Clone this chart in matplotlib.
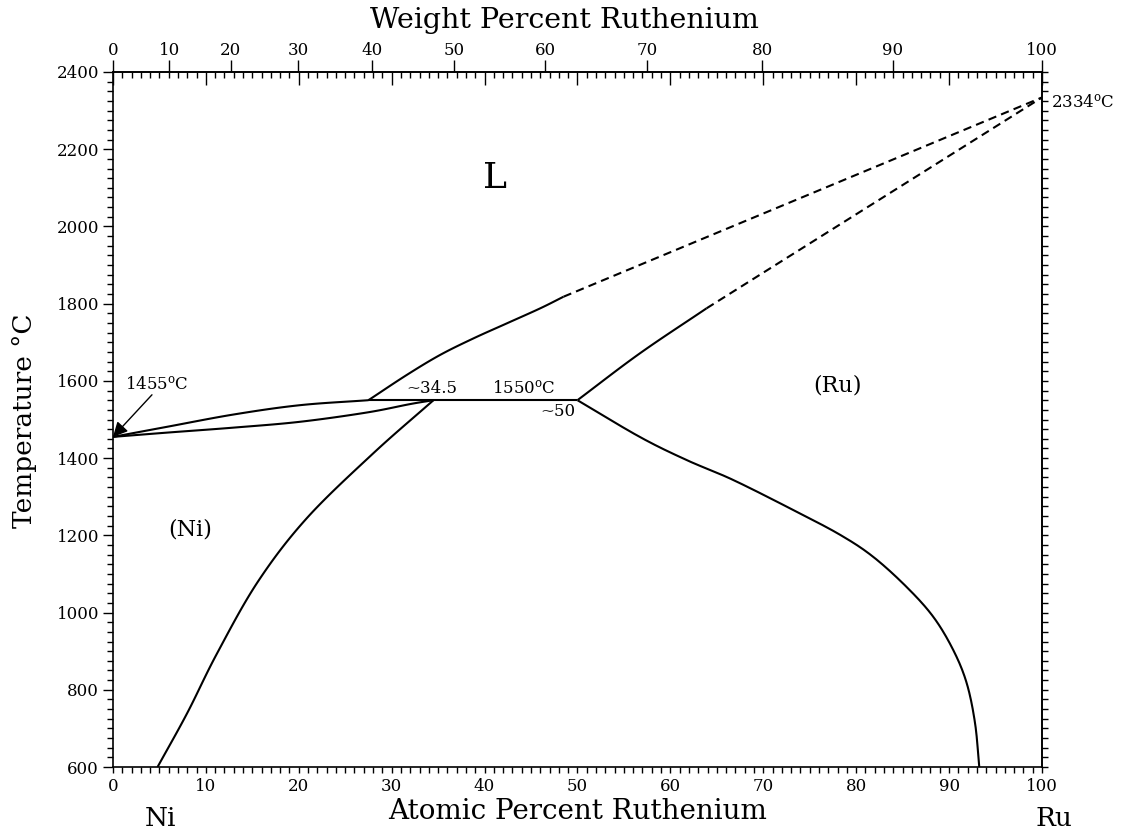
import matplotlib
matplotlib.use("Agg")
import matplotlib.pyplot as plt
import numpy as np
from matplotlib.ticker import MultipleLocator, NullFormatter

plt.rcParams['font.family'] = 'DejaVu Serif'
plt.rcParams['mathtext.fontset'] = 'dejavuserif'

# Ni-Ru phase boundaries (atomic % Ru, temperature in deg C)
liq_ni_x = [0, 5.8, 13.0, 20.1, 27.5]
liq_ni_t = [1455, 1481, 1513, 1537, 1550]

sol_ni_x = [0, 5.8, 13.0, 20.1, 27.3, 32.0, 34.5]
sol_ni_t = [1455, 1466, 1479, 1494, 1518, 1540, 1550]

solvus_ni_x = [34.5, 28.0, 20.85, 15.6, 11.2, 8.0, 4.8]
solvus_ni_t = [1550, 1412, 1244, 1080, 894, 740, 600]

liq_ru_x = [27.5, 31.6, 35.2, 38.8, 42.4, 46.0, 48.5]
liq_ru_t = [1550, 1615, 1667, 1710, 1749, 1788, 1818]
liq_ru_dash_x = [48.5, 100]
liq_ru_dash_t = [1818, 2334]

sol_ru_x = [50.0, 56.7, 63.9]
sol_ru_t = [1550, 1671, 1788]
sol_ru_dash_x = [63.9, 100]
sol_ru_dash_t = [1788, 2334]

solvus_ru_x = [50.0, 56.7, 61.75, 66.8, 73.6, 78.3, 81.8, 85.4, 88.3, 90.45, 91.9, 92.8, 93.25]
solvus_ru_t = [1550, 1455, 1395, 1343, 1261, 1201, 1145, 1067, 989, 903, 817, 713, 600]

peritectic_x = [27.5, 50.0]
peritectic_t = [1550, 1550]

wt_ticks = list(range(0, 101, 10))

M_RU, M_NI = 101.07, 58.69


def wt_to_at(w):
    w = np.asarray(w, float)
    ru = w / M_RU
    ni = (100 - w) / M_NI
    return 100 * ru / (ru + ni)


def smooth(xs, ts, n=20):
    # Catmull-Rom through the given points, done in axes-fraction units
    p = np.column_stack([np.asarray(xs, float) / 100.0,
                         (np.asarray(ts, float) - 600) / 1800.0 * 0.75])
    if len(p) < 3:
        return xs, ts
    p = np.vstack([2 * p[0] - p[1], p, 2 * p[-1] - p[-2]])
    out = []
    for i in range(1, len(p) - 2):
        p0, p1, p2, p3 = p[i - 1], p[i], p[i + 1], p[i + 2]
        u = np.linspace(0, 1, n, endpoint=False)[:, None]
        seg = 0.5 * ((2 * p1) + (-p0 + p2) * u
                     + (2 * p0 - 5 * p1 + 4 * p2 - p3) * u ** 2
                     + (-p0 + 3 * p1 - 3 * p2 + p3) * u ** 3)
        out.append(seg)
    out.append(p[-2][None, :])
    out = np.vstack(out)
    return out[:, 0] * 100.0, out[:, 1] / 0.75 * 1800.0 + 600


fig = plt.figure(figsize=(11.25, 8.34), dpi=100)
ax = fig.add_axes([0.1004, 0.0803, 0.8258, 0.8334])
ax.set_xlim(0, 100)
ax.set_ylim(600, 2400)

kw = dict(color='black', lw=1.5, solid_capstyle='butt', solid_joinstyle='round')
ax.plot(*smooth(liq_ni_x, liq_ni_t), **kw)
ax.plot(*smooth(sol_ni_x, sol_ni_t), **kw)
ax.plot(*smooth(solvus_ni_x, solvus_ni_t), **kw)
ax.plot(*smooth(liq_ru_x, liq_ru_t), **kw)
ax.plot(*smooth(sol_ru_x, sol_ru_t), **kw)
ax.plot(*smooth(solvus_ru_x, solvus_ru_t), **kw)
ax.plot(peritectic_x, peritectic_t, **kw)
ax.plot(liq_ru_dash_x, liq_ru_dash_t, color='black', lw=1.5, dashes=(4, 2.5))
ax.plot(sol_ru_dash_x, sol_ru_dash_t, color='black', lw=1.5, dashes=(4, 2.5))

# labels inside the diagram
ax.text(41.1, 2125, 'L', fontsize=26, ha='center', va='center')
ax.text(8.3, 1214, '(Ni)', fontsize=16, ha='center', va='center')
ax.text(78.0, 1589, '(Ru)', fontsize=16, ha='center', va='center')
ax.text(1.3, 1589, '1455$^{\\rm o}$C', fontsize=12, ha='left', va='center')
ax.annotate('', xy=(0, 1455), xytext=(4.2, 1564),
            arrowprops=dict(arrowstyle='-|>', color='black', lw=1.0,
                            mutation_scale=22, shrinkA=0, shrinkB=0))
ax.text(34.3, 1557, '~34.5', fontsize=12, ha='center', va='bottom')
ax.text(44.2, 1557, '1550$^{\\rm o}$C', fontsize=12, ha='center', va='bottom')
ax.text(47.9, 1520, '~50', fontsize=12, ha='center', va='center')
ax.text(101, 2320, '2334$^{\\rm o}$C', fontsize=12, ha='left', va='center',
        clip_on=False)

for s in ax.spines.values():
    s.set_linewidth(1.2)

# bottom axis: atomic percent
ax.xaxis.set_major_locator(MultipleLocator(10))
ax.xaxis.set_minor_locator(MultipleLocator(1))
ax.tick_params(axis='x', which='both', direction='out', top=False,
               length=4, width=1, labelsize=12, pad=4)

# left axis: temperature
ax.yaxis.set_major_locator(MultipleLocator(200))
ax.yaxis.set_minor_locator(MultipleLocator(25))
ax.tick_params(axis='y', which='major', direction='out', right=False,
               length=7, width=1, labelsize=12, pad=3)
ax.tick_params(axis='y', which='minor', direction='out', right=False,
               length=4, width=1)

# right axis ticks
ry = ax.secondary_yaxis('right')
ry.yaxis.set_major_locator(MultipleLocator(200))
ry.yaxis.set_minor_locator(MultipleLocator(25))
ry.yaxis.set_major_formatter(NullFormatter())
ry.tick_params(which='both', direction='out', length=4, width=1)
ry.spines['right'].set_linewidth(1.2)

# top axis: atomic percent ticks pointing into the plot
tx = ax.secondary_xaxis('top')
tx.xaxis.set_major_locator(MultipleLocator(10))
tx.xaxis.set_minor_locator(MultipleLocator(1))
tx.xaxis.set_major_formatter(NullFormatter())
tx.tick_params(which='major', direction='in', length=9, width=1)
tx.tick_params(which='minor', direction='in', length=4, width=1)
tx.spines['top'].set_linewidth(1.2)

# top axis: weight percent
tw = ax.secondary_xaxis('top')
tw.set_xticks(wt_to_at(wt_ticks), labels=[str(w) for w in wt_ticks])
tw.tick_params(which='major', direction='out', length=9, width=1,
               labelsize=12, pad=0)
tw.spines['top'].set_visible(False)

fig.text(0.513, 0.0264, 'Atomic Percent Ruthenium', fontsize=20,
         ha='center', va='center')
fig.text(0.502, 0.976, 'Weight Percent Ruthenium', fontsize=20.5,
         ha='center', va='center')
fig.text(0.022, 0.496, 'Temperature °C', fontsize=19, rotation=90,
         ha='center', va='center')
fig.text(0.143, 0.019, 'Ni', fontsize=19, ha='center', va='center')
fig.text(0.937, 0.019, 'Ru', fontsize=19, ha='center', va='center')

fig.savefig('out.png', dpi=100)
